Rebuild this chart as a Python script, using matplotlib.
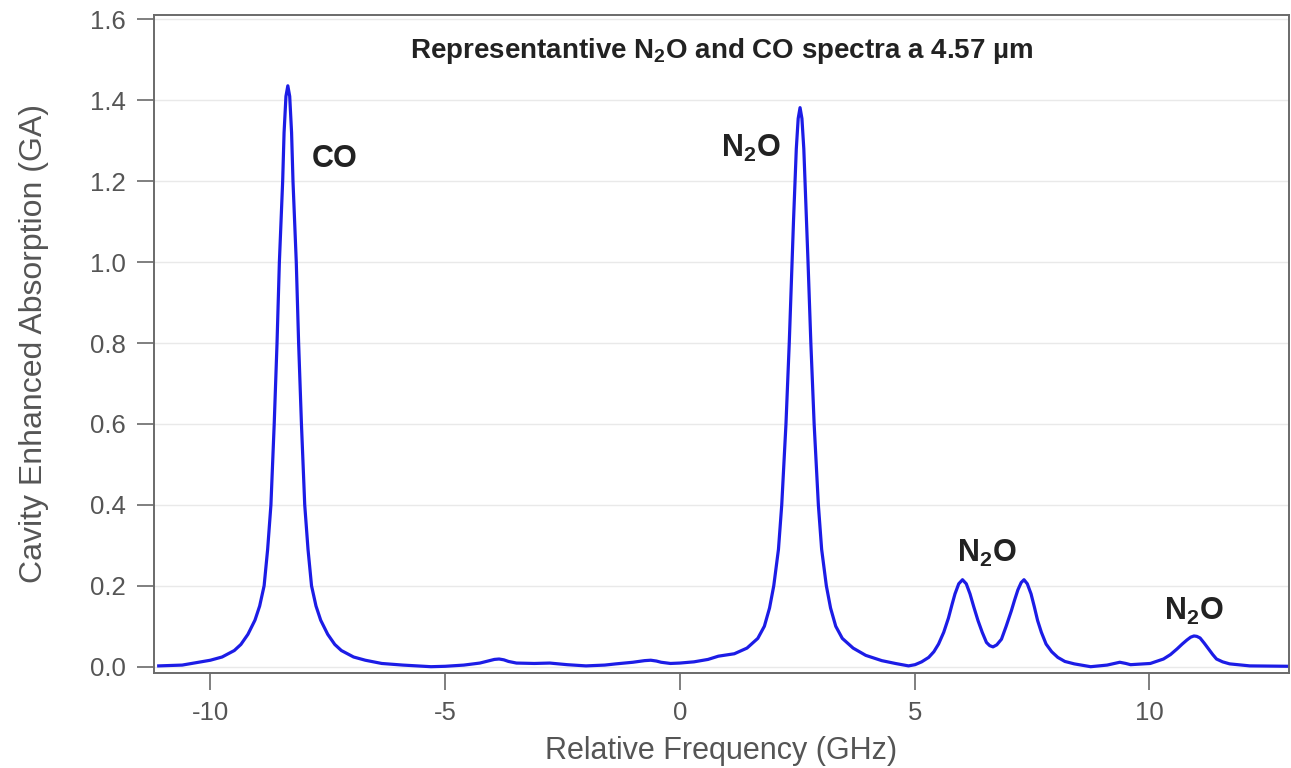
import matplotlib
matplotlib.use("Agg")
import matplotlib.pyplot as plt
from matplotlib.ticker import FormatStrFormatter

plt.rcParams['font.family'] = ['Liberation Sans', 'DejaVu Sans']
plt.rcParams['mathtext.fontset'] = 'custom'
plt.rcParams['mathtext.rm'] = 'Liberation Sans'
plt.rcParams['mathtext.bf'] = 'Liberation Sans:bold'
plt.rcParams['mathtext.default'] = 'bf'
plt.rcParams['axes.unicode_minus'] = False

# spectrum: relative frequency (GHz) and absorption (GA)
freq = [
    -11.1, -10.6, -10.35, -10.0, -9.75, -9.49, -9.35, -9.2, -9.05, -8.95,
    -8.855, -8.78, -8.71, -8.675, -8.64, -8.61, -8.58, -8.555, -8.53, -8.495,
    -8.46, -8.43, -8.39, -8.35, -8.31, -8.27, -8.24, -8.205, -8.17, -8.145,
    -8.12, -8.09, -8.06, -8.025, -7.99, -7.92, -7.845, -7.75, -7.65, -7.5,
    -7.35, -7.21, -6.95, -6.7, -6.35, -5.9, -5.6, -5.3, -5.0, -4.6,
    -4.26, -4.05, -3.95, -3.85, -3.75, -3.65, -3.48, -3.1, -2.77, -2.4,
    -2.0, -1.6, -1.36, -1.0, -0.75, -0.62, -0.5, -0.4, -0.2, 0.0,
    0.3, 0.6, 0.82, 1.16, 1.43, 1.66, 1.8, 1.91, 2.0, 2.1,
    2.17, 2.215, 2.26, 2.295, 2.33, 2.36, 2.39, 2.42, 2.454, 2.48,
    2.52, 2.56, 2.6, 2.64, 2.666, 2.7, 2.73, 2.76, 2.79, 2.825,
    2.86, 2.905, 2.95, 3.02, 3.12, 3.21, 3.32, 3.46, 3.69, 3.96,
    4.3, 4.59, 4.87, 5.01, 5.15, 5.3, 5.41, 5.51, 5.62, 5.72,
    5.8, 5.86, 5.94, 6.02, 6.1, 6.18, 6.26, 6.35, 6.44, 6.53,
    6.6, 6.67, 6.75, 6.85, 6.95, 7.06, 7.13, 7.2, 7.27, 7.33,
    7.4, 7.48, 7.55, 7.62, 7.7, 7.8, 7.92, 8.05, 8.2, 8.4,
    8.75, 9.1, 9.25, 9.37, 9.5, 9.6, 10.02, 10.3, 10.45, 10.59,
    10.7, 10.8, 10.88, 10.95, 11.01, 11.08, 11.17, 11.26, 11.35, 11.43,
    11.56, 11.71, 12.14, 13.0,
]
absorb = [
    0.002, 0.004, 0.009, 0.016, 0.024, 0.04, 0.055, 0.08, 0.115, 0.15,
    0.20, 0.29, 0.40, 0.50, 0.60, 0.70, 0.80, 0.90, 1.00, 1.10,
    1.20, 1.32, 1.41, 1.436, 1.41, 1.32, 1.20, 1.10, 1.00, 0.90,
    0.80, 0.70, 0.60, 0.50, 0.40, 0.29, 0.20, 0.15, 0.115, 0.08,
    0.055, 0.04, 0.024, 0.016, 0.008, 0.004, 0.002, 0.0, 0.001, 0.004,
    0.009, 0.015, 0.018, 0.019, 0.017, 0.013, 0.009, 0.008, 0.009, 0.005,
    0.002, 0.004, 0.007, 0.011, 0.015, 0.016, 0.014, 0.011, 0.008, 0.009,
    0.012, 0.018, 0.026, 0.032, 0.046, 0.07, 0.10, 0.145, 0.20, 0.29,
    0.40, 0.50, 0.60, 0.70, 0.80, 0.90, 1.00, 1.10, 1.20, 1.28,
    1.355, 1.382, 1.355, 1.28, 1.20, 1.10, 1.00, 0.90, 0.80, 0.70,
    0.60, 0.50, 0.40, 0.29, 0.20, 0.145, 0.10, 0.07, 0.046, 0.028,
    0.015, 0.008, 0.002, 0.005, 0.012, 0.023, 0.037, 0.056, 0.085, 0.12,
    0.155, 0.18, 0.205, 0.215, 0.205, 0.18, 0.148, 0.114, 0.085, 0.06,
    0.052, 0.049, 0.054, 0.068, 0.1, 0.138, 0.165, 0.19, 0.208, 0.215,
    0.205, 0.18, 0.148, 0.114, 0.085, 0.056, 0.037, 0.023, 0.013, 0.007,
    0.0, 0.004, 0.008, 0.011, 0.008, 0.005, 0.008, 0.019, 0.03, 0.044,
    0.056, 0.066, 0.073, 0.076, 0.075, 0.071, 0.058, 0.044, 0.03, 0.019,
    0.012, 0.007, 0.002, 0.001,
]

# peak labels: text and baseline position (data units)
peak_labels = ["CO", "N$_2$O", "N$_2$O", "N$_2$O"]
peak_label_x = [-7.35, 1.50, 6.54, 10.94]
peak_label_y = [1.235, 1.259, 0.259, 0.116]

x_ticks = [-10, -5, 0, 5, 10]
y_ticks = [0.0, 0.2, 0.4, 0.6, 0.8, 1.0, 1.2, 1.4, 1.6]

fig = plt.figure(figsize=(12.91, 7.68), dpi=100)
ax = fig.add_axes([0.1193, 0.124, 0.879, 0.857])

ax.plot(freq, absorb, color='#1c1ce6', lw=2.3, solid_joinstyle='round')

ax.set_xlim(-11.2, 12.97)
ax.set_ylim(-0.015, 1.612)
ax.set_xticks(x_ticks)
ax.set_yticks(y_ticks)
ax.yaxis.set_major_formatter(FormatStrFormatter('%.1f'))
ax.grid(axis='y', color='#e9e9e9', lw=1.0)
ax.set_axisbelow(True)

for s in ax.spines.values():
    s.set_color('#6a6a6a')
    s.set_linewidth(1.4)
ax.tick_params(direction='out', length=12, width=1.2, color='#6a6a6a',
               labelsize=18.5, labelcolor='#555555', pad=8)

ax.set_xlabel('Relative Frequency (GHz)', fontsize=22, color='#555555', labelpad=8)
ax.set_ylabel('Cavity Enhanced Absorption (GA)', fontsize=23, color='#555555', labelpad=30)

ax.text(0.5, 0.944, 'Representantive N$_2$O and CO spectra a 4.57 \u00b5m',
        transform=ax.transAxes, ha='center', va='center',
        fontsize=20, fontweight='bold', color='#222222')

for label, lx, ly in zip(peak_labels, peak_label_x, peak_label_y):
    ax.text(lx, ly, label, ha='center', va='baseline', fontsize=22,
            fontweight='bold', color='#222222')

fig.savefig('out.png', dpi=100)
